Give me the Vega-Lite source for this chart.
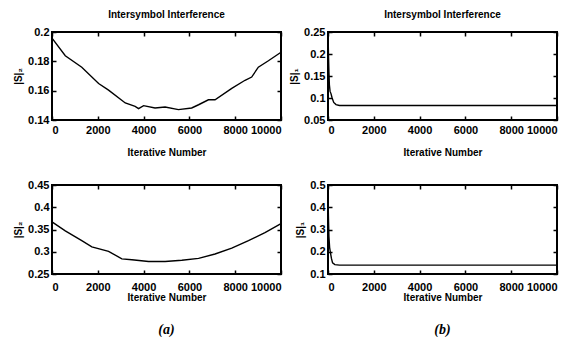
{
  "$schema": "https://vega.github.io/schema/vega-lite/v6.json",
  "background": "white",
  "padding": {"left": 12, "top": 9, "right": 5, "bottom": 5},
  "config": {
    "view": {"stroke": "black", "strokeWidth": 2},
    "font": "Liberation Sans",
    "axis": {
      "domain": false, "grid": false,
      "labelFont": "Liberation Sans", "labelFontWeight": "bold", "labelFontSize": 11, "labelColor": "black",
      "titleFont": "Liberation Sans", "titleFontWeight": "bold", "titleFontSize": 10, "titleColor": "black",
      "tickColor": "black", "tickSize": -4, "tickWidth": 1.5, "labelPadding": 3
    },
    "axisX": {"labelPadding": 8, "titlePadding": 12},
    "axisY": {"labelPadding": 7, "titlePadding": 4, "titleFontSize": 10},
    "title": {"font": "Liberation Sans", "fontWeight": "bold", "fontSize": 10, "color": "black", "offset": 6}
  },
  "datasets": {
    "tl": [
      {"iter": 0, "isi": 0.1958}, {"iter": 580, "isi": 0.1838}, {"iter": 1300, "isi": 0.176},
      {"iter": 2035, "isi": 0.1649}, {"iter": 2470, "isi": 0.1604}, {"iter": 3200, "isi": 0.1516},
      {"iter": 3630, "isi": 0.1493}, {"iter": 3780, "isi": 0.1478}, {"iter": 4000, "isi": 0.1498},
      {"iter": 4500, "isi": 0.1482}, {"iter": 4940, "isi": 0.1489}, {"iter": 5520, "isi": 0.1471},
      {"iter": 6100, "isi": 0.1482}, {"iter": 6400, "isi": 0.1504}, {"iter": 6830, "isi": 0.1538},
      {"iter": 7120, "isi": 0.1538}, {"iter": 7850, "isi": 0.1616}, {"iter": 8430, "isi": 0.1671},
      {"iter": 8720, "isi": 0.1693}, {"iter": 9010, "isi": 0.176}, {"iter": 9450, "isi": 0.1804},
      {"iter": 10000, "isi": 0.1862}
    ],
    "tr": [
      {"iter": 0, "isi": 0.25}, {"iter": 20, "isi": 0.2}, {"iter": 40, "isi": 0.16}, {"iter": 60, "isi": 0.13},
      {"iter": 90, "isi": 0.115}, {"iter": 130, "isi": 0.11}, {"iter": 180, "isi": 0.1}, {"iter": 250, "isi": 0.09},
      {"iter": 350, "isi": 0.085}, {"iter": 500, "isi": 0.083}, {"iter": 10000, "isi": 0.083}
    ],
    "bl": [
      {"iter": 0, "isi": 0.367}, {"iter": 580, "isi": 0.347}, {"iter": 1300, "isi": 0.325},
      {"iter": 1740, "isi": 0.311}, {"iter": 2470, "isi": 0.301}, {"iter": 3050, "isi": 0.284},
      {"iter": 3490, "isi": 0.282}, {"iter": 4215, "isi": 0.278}, {"iter": 4940, "isi": 0.278},
      {"iter": 5670, "isi": 0.281}, {"iter": 6400, "isi": 0.285}, {"iter": 7120, "isi": 0.295},
      {"iter": 7850, "isi": 0.308}, {"iter": 8580, "isi": 0.325}, {"iter": 9300, "isi": 0.343},
      {"iter": 10000, "isi": 0.363}
    ],
    "br": [
      {"iter": 0, "isi": 0.45}, {"iter": 20, "isi": 0.35}, {"iter": 40, "isi": 0.27}, {"iter": 70, "isi": 0.22},
      {"iter": 100, "isi": 0.2}, {"iter": 150, "isi": 0.17}, {"iter": 200, "isi": 0.15}, {"iter": 300, "isi": 0.142},
      {"iter": 500, "isi": 0.14}, {"iter": 10000, "isi": 0.14}
    ]
  },
  "columns": 2,
  "spacing": {"row": 65, "column": 47},
  "bounds": "flush",
  "concat": [
    {
      "width": 229, "height": 88,
      "title": "Intersymbol Interference",
      "data": {"name": "tl"},
      "layer": [
        {
          "mark": {"type": "line", "color": "black", "strokeWidth": 1.4},
          "encoding": {
            "x": {"field": "iter", "type": "quantitative", "scale": {"domain": [0, 10000], "nice": false},
                  "axis": {"values": [0, 2000, 4000, 6000, 8000, 10000], "format": "d", "title": "Iterative Number"}},
            "y": {"field": "isi", "type": "quantitative", "scale": {"domain": [0.14, 0.2], "nice": false, "zero": false},
                  "axis": {"values": [0.14, 0.16, 0.18, 0.2], "format": "~g", "title": "|S|₂"}}
          }
        },
        {
          "mark": {"type": "line", "opacity": 0},
          "encoding": {
            "x": {"field": "iter", "type": "quantitative", "scale": {"domain": [0, 10000], "nice": false},
                  "axis": {"orient": "top", "values": [0, 2000, 4000, 6000, 8000, 10000], "labels": false, "title": null}},
            "y": {"field": "isi", "type": "quantitative", "scale": {"domain": [0.14, 0.2], "nice": false, "zero": false},
                  "axis": {"orient": "right", "values": [0.14, 0.16, 0.18, 0.2], "labels": false, "title": null}}
          }
        }
      ],
      "resolve": {"axis": {"x": "independent", "y": "independent"}}
    },
    {
      "width": 229, "height": 88,
      "title": "Intersymbol Interference",
      "data": {"name": "tr"},
      "layer": [
        {
          "mark": {"type": "line", "color": "black", "strokeWidth": 1.4},
          "encoding": {
            "x": {"field": "iter", "type": "quantitative", "scale": {"domain": [0, 10000], "nice": false},
                  "axis": {"values": [0, 2000, 4000, 6000, 8000, 10000], "format": "d", "title": "Iterative Number"}},
            "y": {"field": "isi", "type": "quantitative", "scale": {"domain": [0.05, 0.25], "nice": false, "zero": false},
                  "axis": {"values": [0.05, 0.1, 0.15, 0.2, 0.25], "format": "~g", "title": "|S|₁"}}
          }
        },
        {
          "mark": {"type": "line", "opacity": 0},
          "encoding": {
            "x": {"field": "iter", "type": "quantitative", "scale": {"domain": [0, 10000], "nice": false},
                  "axis": {"orient": "top", "values": [0, 2000, 4000, 6000, 8000, 10000], "labels": false, "title": null}},
            "y": {"field": "isi", "type": "quantitative", "scale": {"domain": [0.05, 0.25], "nice": false, "zero": false},
                  "axis": {"orient": "right", "values": [0.05, 0.1, 0.15, 0.2, 0.25], "labels": false, "title": null}}
          }
        }
      ],
      "resolve": {"axis": {"x": "independent", "y": "independent"}}
    },
    {
      "width": 229, "height": 89,
      "title": {"text": "(a)", "orient": "bottom", "font": "Liberation Serif", "fontStyle": "italic", "fontWeight": "bold", "fontSize": 14, "offset": 21},
      "data": {"name": "bl"},
      "layer": [
        {
          "mark": {"type": "line", "color": "black", "strokeWidth": 1.4},
          "encoding": {
            "x": {"field": "iter", "type": "quantitative", "scale": {"domain": [0, 10000], "nice": false},
                  "axis": {"values": [0, 2000, 4000, 6000, 8000, 10000], "format": "d", "title": "Iterative Number", "labelPadding": 11, "titlePadding": 0}},
            "y": {"field": "isi", "type": "quantitative", "scale": {"domain": [0.25, 0.45], "nice": false, "zero": false},
                  "axis": {"values": [0.25, 0.3, 0.35, 0.4, 0.45], "format": "~g", "title": "|S|₂"}}
          }
        },
        {
          "mark": {"type": "line", "opacity": 0},
          "encoding": {
            "x": {"field": "iter", "type": "quantitative", "scale": {"domain": [0, 10000], "nice": false},
                  "axis": {"orient": "top", "values": [0, 2000, 4000, 6000, 8000, 10000], "labels": false, "title": null}},
            "y": {"field": "isi", "type": "quantitative", "scale": {"domain": [0.25, 0.45], "nice": false, "zero": false},
                  "axis": {"orient": "right", "values": [0.25, 0.3, 0.35, 0.4, 0.45], "labels": false, "title": null}}
          }
        }
      ],
      "resolve": {"axis": {"x": "independent", "y": "independent"}}
    },
    {
      "width": 229, "height": 89,
      "title": {"text": "(b)", "orient": "bottom", "font": "Liberation Serif", "fontStyle": "italic", "fontWeight": "bold", "fontSize": 14, "offset": 21},
      "data": {"name": "br"},
      "layer": [
        {
          "mark": {"type": "line", "color": "black", "strokeWidth": 1.4},
          "encoding": {
            "x": {"field": "iter", "type": "quantitative", "scale": {"domain": [0, 10000], "nice": false},
                  "axis": {"values": [0, 2000, 4000, 6000, 8000, 10000], "format": "d", "title": "Iterative Number", "labelPadding": 11, "titlePadding": 0}},
            "y": {"field": "isi", "type": "quantitative", "scale": {"domain": [0.1, 0.5], "nice": false, "zero": false},
                  "axis": {"values": [0.1, 0.2, 0.3, 0.4, 0.5], "format": "~g", "title": "|S|₁"}}
          }
        },
        {
          "mark": {"type": "line", "opacity": 0},
          "encoding": {
            "x": {"field": "iter", "type": "quantitative", "scale": {"domain": [0, 10000], "nice": false},
                  "axis": {"orient": "top", "values": [0, 2000, 4000, 6000, 8000, 10000], "labels": false, "title": null}},
            "y": {"field": "isi", "type": "quantitative", "scale": {"domain": [0.1, 0.5], "nice": false, "zero": false},
                  "axis": {"orient": "right", "values": [0.1, 0.2, 0.3, 0.4, 0.5], "labels": false, "title": null}}
          }
        }
      ],
      "resolve": {"axis": {"x": "independent", "y": "independent"}}
    }
  ]
}
